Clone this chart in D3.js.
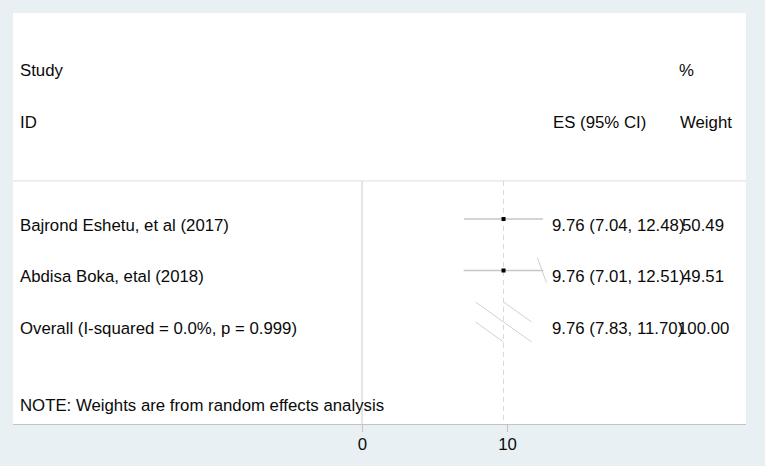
<!DOCTYPE html>
<html>
<head>
<meta charset="utf-8">
<script src="https://cdn.jsdelivr.net/npm/d3@7"></script>
<style>
  body { margin: 0; background: #e9f0f3; }
  text { font-family: "Liberation Sans", Arial, sans-serif; font-size: 16.8px; fill: #0a0a0a; }
</style>
</head>
<body>
<div id="chart"></div>
<script>
// Study data
var studies = ["Bajrond Eshetu, et al (2017)", "Abdisa Boka, etal (2018)"];
var es = [9.76, 9.76];
var lo = [7.04, 7.01];
var hi = [12.48, 12.51];
var weights = ["50.49", "49.51"];
var esText = ["9.76 (7.04, 12.48)", "9.76 (7.01, 12.51)"];

// Pooled estimate
var overallLabel = "Overall (I-squared = 0.0%, p = 0.999)";
var overall = { es: 9.76, lo: 7.83, hi: 11.70, text: "9.76 (7.83, 11.70)", weight: "100.00" };

var xTicks = [0, 10];
var note = "NOTE: Weights are from random effects analysis";

var width = 765, height = 466;

var svg = d3.select("#chart").append("svg")
    .attr("width", width)
    .attr("height", height);

// Plot region
svg.append("rect")
    .attr("x", 13).attr("y", 13)
    .attr("width", 733).attr("height", 412)
    .attr("fill", "#fff");

// Scales
var x = d3.scaleLinear().domain([0, 10]).range([362, 507]);
var y = d3.scaleLinear().domain([0, 1]).range([64.5, 116]);
var textOff = 11.5;

// Separator line under header
svg.append("line")
    .attr("x1", 13).attr("x2", 746)
    .attr("y1", y(2.26)).attr("y2", y(2.26))
    .attr("stroke", "#e4e4e4").attr("stroke-width", 1.2);

// Null line
svg.append("line")
    .attr("x1", x(0)).attr("x2", x(0))
    .attr("y1", y(2.26)).attr("y2", 424)
    .attr("stroke", "#dcdcdc").attr("stroke-width", 1.5);

// Overall effect dashed line
svg.append("line")
    .attr("x1", x(overall.es)).attr("x2", x(overall.es))
    .attr("y1", y(2.26)).attr("y2", 424)
    .attr("stroke", "#d8d8d8").attr("stroke-width", 1)
    .attr("stroke-dasharray", "5,4");

// x axis
var axis = svg.append("g")
    .attr("transform", "translate(0,424)")
    .call(d3.axisBottom(x).tickValues(xTicks).tickSize(8).tickPadding(6).tickFormat(d3.format("d")));
axis.select(".domain").attr("d", "M13,0.5H746").attr("stroke", "#c4c4c4");
axis.selectAll(".tick line").attr("stroke", "#c4c4c4");
axis.selectAll(".tick text")
    .style("font-family", "'Liberation Sans', Arial, sans-serif")
    .style("font-size", "16.8px").attr("fill", "#0a0a0a");

// Header
svg.append("text").attr("x", 20).attr("y", y(0) + textOff).text("Study");
svg.append("text").attr("x", 20).attr("y", y(1) + textOff).text("ID");
svg.append("text").attr("x", 553).attr("y", y(1) + textOff).text("ES (95% CI)");
svg.append("text").attr("x", 679).attr("y", y(0) + textOff).text("%");
svg.append("text").attr("x", 680).attr("y", y(1) + textOff).text("Weight");

// Study rows
var rows = studies.map(function (s, i) {
    return { label: s, es: es[i], lo: lo[i], hi: hi[i], text: esText[i], weight: weights[i], row: 3 + i };
});

svg.selectAll(".ci")
    .data(rows)
    .enter().append("line")
    .attr("x1", function (d) { return x(d.lo); })
    .attr("x2", function (d) { return x(d.hi); })
    .attr("y1", function (d) { return y(d.row); })
    .attr("y2", function (d) { return y(d.row); })
    .attr("stroke", "#c6c6c6").attr("stroke-width", 1.3);

svg.selectAll(".pt")
    .data(rows)
    .enter().append("rect")
    .attr("x", function (d) { return x(d.es) - 2; })
    .attr("y", function (d) { return y(d.row) - 2; })
    .attr("width", 4).attr("height", 4)
    .attr("fill", "#000");

// stray tick at end of second CI
svg.append("line")
    .attr("x1", x(hi[1]) - 6).attr("y1", y(4) - 13)
    .attr("x2", x(hi[1]) + 3).attr("y2", y(4) + 12)
    .attr("stroke", "#cfcfcf").attr("stroke-width", 1);

svg.selectAll(".lab")
    .data(rows)
    .enter().append("text")
    .attr("x", 20)
    .attr("y", function (d) { return y(d.row) + textOff; })
    .text(function (d) { return d.label; });

svg.selectAll(".est")
    .data(rows)
    .enter().append("text")
    .attr("x", 552)
    .attr("y", function (d) { return y(d.row) + textOff; })
    .text(function (d) { return d.text; });

svg.selectAll(".wt")
    .data(rows)
    .enter().append("text")
    .attr("x", 682)
    .attr("y", function (d) { return y(d.row) + textOff; })
    .text(function (d) { return d.weight; });

// Overall row, diamond drawn as skewed strokes
var oy = y(5), h = 20;
var dSegs = [
    [overall.lo, oy - h, overall.es, oy],
    [overall.es, oy, overall.hi, oy + h],
    [overall.es, oy - h, overall.hi, oy],
    [overall.lo, oy, overall.es, oy + h]
];
svg.selectAll(".dia")
    .data(dSegs)
    .enter().append("line")
    .attr("x1", function (d) { return x(d[0]); })
    .attr("y1", function (d) { return d[1]; })
    .attr("x2", function (d) { return x(d[2]); })
    .attr("y2", function (d) { return d[3]; })
    .attr("stroke", "#d2d2d2").attr("stroke-width", 1);

svg.append("text").attr("x", 20).attr("y", oy + textOff).text(overallLabel);
svg.append("text").attr("x", 552).attr("y", oy + textOff).text(overall.text);
svg.append("text").attr("x", 678).attr("y", oy + textOff).text(overall.weight);

// Note
svg.append("text").attr("x", 20).attr("y", y(6.5) + textOff).text(note);
</script>
</body>
</html>
